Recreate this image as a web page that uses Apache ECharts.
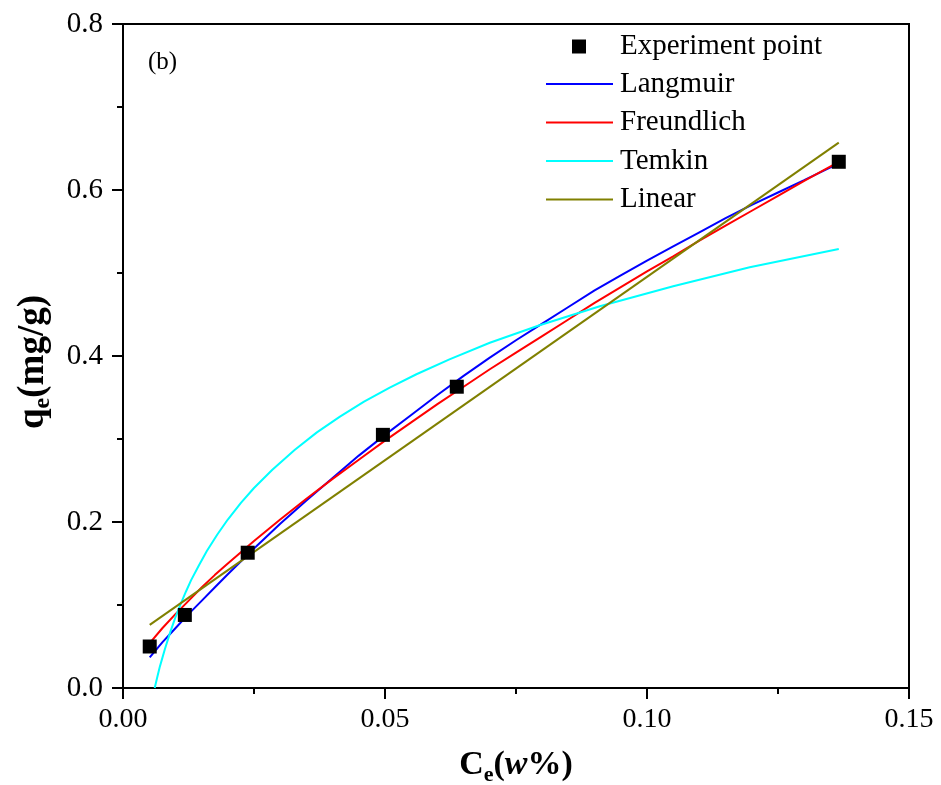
<!DOCTYPE html>
<html>
<head>
<meta charset="utf-8">
<script src="https://cdn.jsdelivr.net/npm/echarts@6/dist/echarts.min.js"></script>
<style>
  html, body { margin: 0; padding: 0; background: #fff; }
  #chart { width: 941px; height: 785px; }
</style>
</head>
<body>
<div id="chart"></div>
<script>
// Adsorption isotherm: measured points and the four fitted models
const ceExp = [0.0051, 0.0118, 0.0238, 0.0496, 0.0637, 0.1366];
const qeExp = [0.050, 0.088, 0.163, 0.305, 0.363, 0.634];

const fitCe = [0.0051, 0.0075, 0.01, 0.0125, 0.015, 0.0175, 0.02, 0.025, 0.03, 0.035, 0.04, 0.045, 0.05, 0.055, 0.06, 0.065, 0.07, 0.075, 0.08, 0.085, 0.09, 0.095, 0.10, 0.105, 0.11, 0.115, 0.12, 0.125, 0.13, 0.1366];
const langmuirQe = [0.037, 0.055, 0.072, 0.089, 0.105, 0.121, 0.137, 0.168, 0.198, 0.226, 0.253, 0.280, 0.305, 0.329, 0.353, 0.376, 0.398, 0.419, 0.439, 0.459, 0.479, 0.497, 0.515, 0.532, 0.549, 0.566, 0.582, 0.597, 0.612, 0.632];
const freundlichQe = [0.054, 0.072, 0.089, 0.105, 0.121, 0.136, 0.150, 0.177, 0.203, 0.228, 0.252, 0.275, 0.298, 0.320, 0.342, 0.363, 0.384, 0.404, 0.424, 0.444, 0.464, 0.483, 0.502, 0.520, 0.539, 0.557, 0.575, 0.593, 0.611, 0.634];

const temkinCe = [0.00605, 0.0065, 0.007, 0.0075, 0.008, 0.009, 0.010, 0.011, 0.012, 0.013, 0.0145, 0.016, 0.018, 0.02, 0.0225, 0.025, 0.0285, 0.0328, 0.037, 0.0414, 0.046, 0.0509, 0.056, 0.0623, 0.07, 0.0795, 0.091, 0.105, 0.1196, 0.1366];
const temkinQe = [0.000, 0.012, 0.025, 0.036, 0.047, 0.067, 0.085, 0.101, 0.116, 0.130, 0.148, 0.165, 0.185, 0.203, 0.223, 0.241, 0.263, 0.287, 0.308, 0.327, 0.345, 0.362, 0.378, 0.396, 0.416, 0.437, 0.460, 0.484, 0.507, 0.529];

const linearCe = [0.0051, 0.1366];
const linearQe = [0.076, 0.657];

const xTicks = { min: 0, max: 0.15, interval: 0.05 };
const yTicks = { min: 0, max: 0.8, interval: 0.2 };

const pairs = (xs, ys) => xs.map((x, i) => [x, ys[i]]);
const serif = 'Liberation Serif';

const chart = echarts.init(document.getElementById('chart'), null, { renderer: 'canvas' });

const lineSeries = (name, color, xs, ys) => ({
  name, type: 'line', data: pairs(xs, ys),
  showSymbol: false, symbol: 'none', smooth: false,
  lineStyle: { color, width: 2 }, itemStyle: { color },
  z: 2, silent: true, animation: false
});

const legendText = { fontFamily: serif, fontSize: 29, color: '#000' };

chart.setOption({
  animation: false,
  backgroundColor: '#fff',
  grid: {
    left: 123, right: 32, top: 24, bottom: 97,
    outerBoundsMode: 'none', containLabel: false,
    show: true, borderColor: '#000', borderWidth: 2, backgroundColor: 'transparent'
  },
  xAxis: {
    type: 'value', min: xTicks.min, max: xTicks.max, interval: xTicks.interval,
    name: '{b|C}{s|e}{b|(}{i|w}{b|%)}',
    nameLocation: 'middle', nameGap: 56,
    nameTextStyle: {
      rich: {
        b: { fontFamily: serif, fontSize: 34, fontWeight: 'bold', color: '#000', lineHeight: 42 },
        i: { fontFamily: serif, fontSize: 34, fontWeight: 'bold', fontStyle: 'italic', color: '#000', lineHeight: 42 },
        s: { fontFamily: serif, fontSize: 22, fontWeight: 'bold', color: '#000', lineHeight: 20, verticalAlign: 'bottom' }
      }
    },
    axisLine: { show: true, onZero: false, lineStyle: { color: '#000', width: 2 } },
    axisTick: { show: true, inside: false, length: 11, lineStyle: { color: '#000', width: 2 } },
    minorTick: { show: true, splitNumber: 2, length: 6, lineStyle: { color: '#000', width: 2 } },
    splitLine: { show: false },
    axisLabel: {
      margin: 18, fontFamily: serif, fontSize: 28, color: '#000',
      formatter: v => v.toFixed(2)
    }
  },
  yAxis: {
    type: 'value', min: yTicks.min, max: yTicks.max, interval: yTicks.interval,
    name: '{b|q}{s|e}{b|(mg/g)}',
    nameLocation: 'middle', nameGap: 68,
    nameTextStyle: {
      padding: [0, 12, 0, 0],
      rich: {
        b: { fontFamily: serif, fontSize: 37, fontWeight: 'bold', color: '#000', lineHeight: 44 },
        s: { fontFamily: serif, fontSize: 24, fontWeight: 'bold', color: '#000', lineHeight: 22, verticalAlign: 'bottom' }
      }
    },
    axisLine: { show: true, onZero: false, lineStyle: { color: '#000', width: 2 } },
    axisTick: { show: true, inside: false, length: 11, lineStyle: { color: '#000', width: 2 } },
    minorTick: { show: true, splitNumber: 2, length: 6, lineStyle: { color: '#000', width: 2 } },
    splitLine: { show: false },
    axisLabel: {
      margin: 20, fontFamily: serif, fontSize: 29, color: '#000',
      formatter: v => v.toFixed(1)
    }
  },
  legend: [
    {
      data: ['Experiment point'],
      orient: 'vertical', left: 572, top: 32, padding: 0,
      itemWidth: 14, itemHeight: 14, icon: 'rect',
      itemStyle: { color: '#000', opacity: 1 },
      textStyle: Object.assign({ padding: [0, 0, 0, 29] }, legendText),
      selectedMode: false
    },
    {
      data: ['Langmuir', 'Freundlich', 'Temkin', 'Linear'],
      orient: 'vertical', left: 546, top: 69, padding: 0,
      itemWidth: 67, itemHeight: 2, itemGap: 8.5, icon: 'rect',
      textStyle: Object.assign({ lineHeight: 30, padding: [0, 0, 0, 2] }, legendText),
      selectedMode: false
    }
  ],
  graphic: [
    {
      type: 'text', left: 148, top: 50,
      style: { text: '(b)', fontFamily: serif, fontSize: 25, fill: '#000' }
    }
  ],
  series: [
    {
      name: 'Experiment point', type: 'scatter', data: pairs(ceExp, qeExp),
      symbol: 'rect', symbolSize: 14,
      itemStyle: { color: '#000', opacity: 1 }, z: 5, silent: true
    },
    lineSeries('Langmuir', '#0000ff', fitCe, langmuirQe),
    lineSeries('Freundlich', '#ff0000', fitCe, freundlichQe),
    lineSeries('Temkin', '#00ffff', temkinCe, temkinQe),
    lineSeries('Linear', '#808000', linearCe, linearQe)
  ]
});
</script>
</body>
</html>
